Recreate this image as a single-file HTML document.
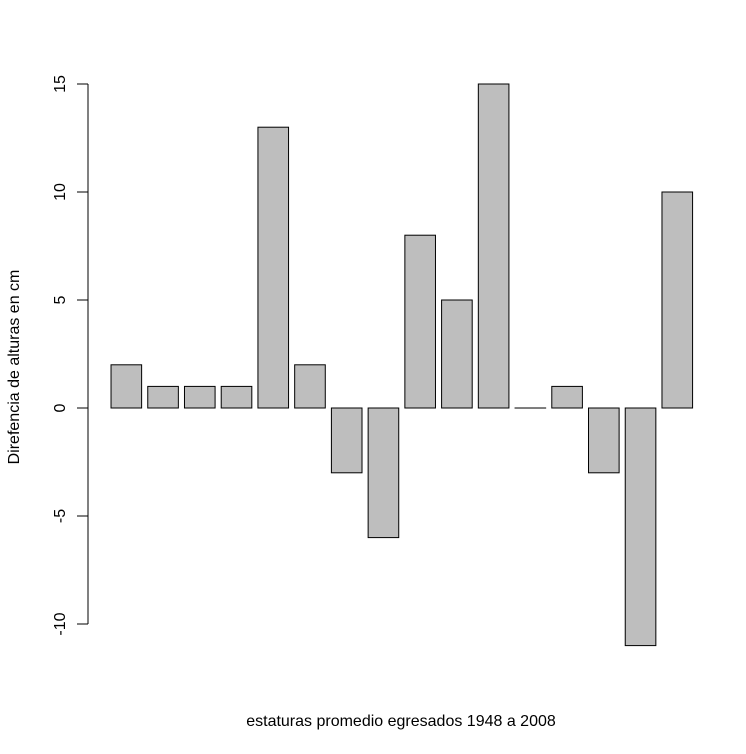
<!DOCTYPE html>
<html><head><meta charset="utf-8"><style>
html,body{margin:0;padding:0;background:#fff;}
svg text{font-family:"Liberation Sans",Arial,sans-serif;font-size:16px;fill:#000;}
</style></head><body>
<svg id="chart" width="746" height="749" viewBox="0 0 746 749" xmlns="http://www.w3.org/2000/svg">
<rect width="746" height="749" fill="#fff"/>
<g id="axis"></g>
<g id="bars"></g>
<text x="401" y="726" text-anchor="middle">estaturas promedio egresados 1948 a 2008</text>
<text transform="translate(19,367) rotate(-90)" text-anchor="middle">Direfencia de alturas en cm</text>
</svg>
<script>
const values = [2,1,1,1,13,2,-3,-6,8,5,15,0,1,-3,-11,10];
const tickValues = [-10,-5,0,5,10,15];
const tickLabels = ["-10","-5","0","5","10","15"];
const NS = "http://www.w3.org/2000/svg";
function yScale(v){ return 408 - v*21.6; }
const unit = 36.73/1.2;
function xScale(u){ return 104.9 + u*unit; }
const axis = document.getElementById('axis');
const bars = document.getElementById('bars');
function mk(tag, attrs, parent){ const e=document.createElementNS(NS,tag); for(const k in attrs) e.setAttribute(k,attrs[k]); parent.appendChild(e); return e; }
const line = mk('line',{x1:88,x2:88,y1:yScale(tickValues[tickValues.length-1]),y2:yScale(tickValues[0]),stroke:'#000','stroke-width':1},axis);


tickValues.forEach((v,i)=>{
  const y=yScale(v);
  const t=mk('line',{x1:77,x2:88,y1:y,y2:y,stroke:'#000','stroke-width':1},axis);
  
  
  const tx=mk('text',{transform:`translate(65,${y}) rotate(-90)`,'text-anchor':'middle'},axis);
  tx.textContent=tickLabels[i];
  
  
});
values.forEach((v,i)=>{
  const x0=xScale(0.2+i*1.2), x1=xScale(1.2+i*1.2);
  const y0=yScale(Math.max(v,0)), y1=yScale(Math.min(v,0));
  const r=mk('rect',{x:x0,y:y0,width:x1-x0,height:Math.max(y1-y0,0.01),fill:'#bebebe',stroke:'#000','stroke-width':1},bars);
  
  
  if(v===0){
    const l=mk('line',{x1:x0,x2:x1,y1:y0,y2:y0,stroke:'#000','stroke-width':1},bars);
    
    
  }
});
</script>
</body></html>
